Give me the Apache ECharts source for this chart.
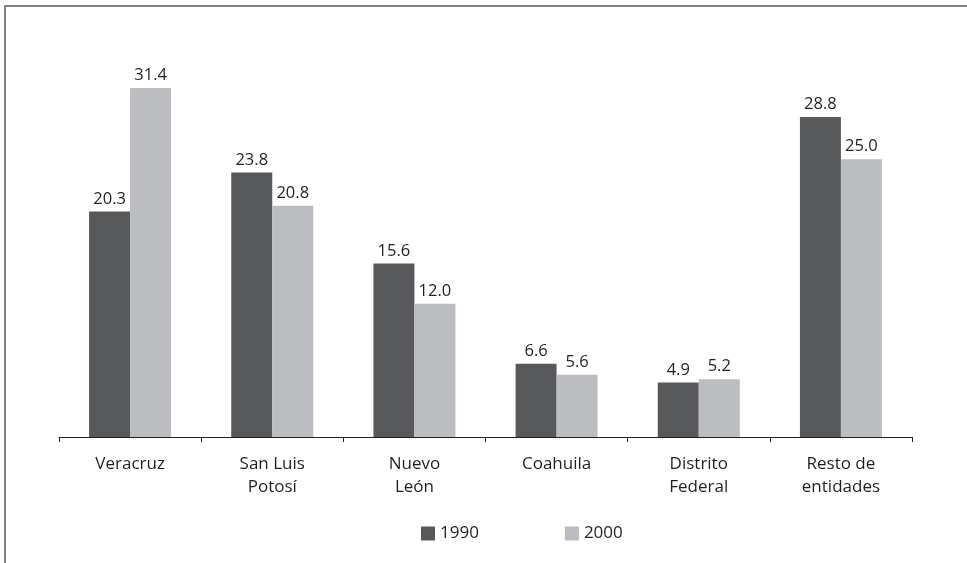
<!DOCTYPE html>
<html><head><meta charset="utf-8">
<script src="https://cdn.jsdelivr.net/npm/echarts@6/dist/echarts.min.js"></script>
<style>html,body{margin:0;padding:0;background:#fff}#c{width:967px;height:563px}</style>
</head><body><div id="c"></div>
<script>
const categories = ['Veracruz', 'San Luis\nPotosí', 'Nuevo\nLeón', 'Coahuila', 'Distrito\nFederal', 'Resto de\nentidades'];
const seriesNames = ['1990', '2000'];
const values1990 = [20.3, 23.8, 15.6, 6.6, 4.9, 28.8];
const values2000 = [31.4, 20.8, 12.0, 5.6, 5.2, 25.0];
const colors = ['#58595b', '#bcbdc0'];
const FONT = '"Open Sans", "Noto Sans", sans-serif';
const chart = echarts.init(document.getElementById('c'));
const lbl = {show: true, position: 'top', distance: 4, color: '#231f20', fontSize: 16.5, fontFamily: FONT,
  formatter: p => p.value.toFixed(1)};
chart.setOption({
  animation: false,
  graphic: [{type: 'rect', shape: {x: 5, y: 6, width: 1000, height: 600}, style: {fill: 'none', stroke: '#808080', lineWidth: 2}}],
  grid: {left: 59, right: 55, top: 48, bottom: 126},
  legend: {top: 520, left: 416, itemWidth: 14, itemHeight: 14, itemGap: 86, icon: 'rect', itemStyle: {borderWidth: 0},
    textStyle: {color: '#231f20', fontSize: 17, fontFamily: FONT}, data: seriesNames},
  xAxis: {type: 'category', data: categories,
    axisLine: {lineStyle: {color: '#231f20', width: 1}},
    axisTick: {show: true, length: 5, lineStyle: {color: '#231f20'}},
    axisLabel: {color: '#231f20', fontSize: 17, fontFamily: FONT, margin: 16, lineHeight: 23}},
  yAxis: {type: 'value', min: 0, max: 35, show: false, splitLine: {show: false}},
  series: [
    {name: seriesNames[0], type: 'bar', data: values1990, barWidth: 41, barGap: '0%', itemStyle: {color: colors[0]}, label: lbl},
    {name: seriesNames[1], type: 'bar', data: values2000, barWidth: 41, barGap: '0%', itemStyle: {color: colors[1]}, label: lbl}
  ]
});
</script></body></html>
